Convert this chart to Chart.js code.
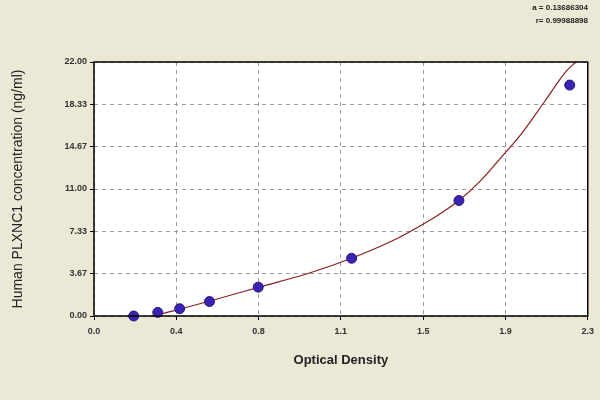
<!DOCTYPE html>
<html><head><script src="https://cdn.jsdelivr.net/npm/chart.js@4"></script>
<style>html,body{margin:0;background:#ebe8d6;}#c{display:block}</style></head>
<body><canvas id="c" width="600" height="400"></canvas>
<script>
const odValues=[0.185,0.297,0.399,0.538,0.765,1.20,1.70,2.216];
const concValues=[0,0.31,0.63,1.25,2.5,5,10,20];
const curveX=[0.27,0.4,0.54,0.77,1.0,1.2,1.4,1.5,1.6,1.7,1.8,1.9,2.0,2.1,2.2,2.245];
const curveY=[0,0.6,1.3,2.5,3.7,5.0,6.6,7.6,8.7,10.0,11.7,13.8,16.0,18.6,21.2,22];
const xTickLabels=['0.0','0.4','0.8','1.1','1.5','1.9','2.3'];
const yTickLabels=['0.00','3.67','7.33','11.00','14.67','18.33','22.00'];
const fitText=['a = 0.13686304','r= 0.99988898'];
const bg={id:'bg',beforeDraw(c){const x=c.ctx,a=c.chartArea;x.save();x.fillStyle='#ebe8d6';x.fillRect(0,0,c.width,c.height);x.fillStyle='#fff';x.fillRect(a.left,a.top,a.right-a.left,a.bottom-a.top);x.restore();},
afterDraw(c){const x=c.ctx,a=c.chartArea;x.save();x.strokeStyle='#000';x.lineWidth=1.5;x.strokeRect(a.left,a.top,a.right-a.left,a.bottom-a.top);
x.fillStyle='#222';x.font='bold 8px Arial';x.textAlign='right';x.fillText(fitText[0],588,10);x.fillText(fitText[1],588,23);x.restore();}};
new Chart(document.getElementById('c'),{type:'scatter',
data:{datasets:[
{type:'line',data:curveX.map((v,i)=>({x:v,y:curveY[i]})),borderColor:'#8b2020',borderWidth:1.2,pointRadius:0,cubicInterpolationMode:'monotone',order:2},
{data:odValues.map((v,i)=>({x:v,y:concValues[i]})),backgroundColor:'#3b22b0',borderColor:'#2a1880',pointRadius:5,order:1}]},
options:{responsive:false,animation:false,clip:false,
layout:{padding:{top:62,right:10,left:6,bottom:28}},
plugins:{legend:{display:false},tooltip:{enabled:false}},
scales:{
x:{type:'linear',min:0,max:2.3,afterBuildTicks(s){s.ticks=xTickLabels.map((l,i)=>({value:2.3*i/6}));},
 afterFit(s){s.height=56;},
 ticks:{callback:(v,i)=>xTickLabels[i],color:'#333',font:{family:'Arial',size:9,weight:'bold'},padding:6},
 grid:{color:'#999',drawTicks:true,tickLength:4,tickColor:'#000'},border:{dash:[4,4],display:false},
 title:{display:true,text:'Optical Density',font:{family:'Arial',size:13,weight:'bold'},color:'#222',padding:{top:20}}},
y:{min:0,max:22,afterBuildTicks(s){s.ticks=yTickLabels.map((l,i)=>({value:22*i/6}));},
 afterFit(s){s.width=88;},
 ticks:{callback:(v,i)=>yTickLabels[i],color:'#333',font:{family:'Arial',size:9,weight:'bold'}},
 grid:{color:'#999',tickLength:4,tickColor:'#000'},border:{dash:[4,4],display:false},
 title:{display:true,text:'Human PLXNC1 concentration (ng/ml)',font:{family:'Arial',size:14},color:'#222'}}}},
plugins:[bg]});
</script></body></html>
